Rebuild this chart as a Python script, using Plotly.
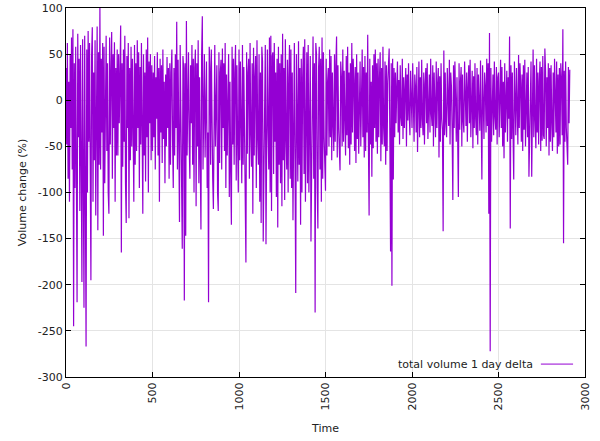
import plotly.graph_objects as go

# Volume change (%), one value every 4 days,
# grouped per 100-day block (block b starts at day 100*b)
day_step = 4
block_days = 100
volume_delta_blocks = [
    [35, -48, 62, -85, 20, -110, 50, -30, 68, -75, 77, -245, 40, -95, 58, -60, -219, 72, -40, 45, -120, 60, -70, -197, 66],
    [-50, -225, 70, -80, -267, 55, -100, 75, -45, 62, -90, -195, 48, 79, -110, 30, -65, 65, -125, 40, 80, -141, 52, -70, 100],
    [-75, 45, -35, 62, -147, 58, -90, 25, 70, -55, 40, -100, -123, 68, -48, 30, 74, -85, 50, -30, 63, -110, 35, -60, 55],
    [-60, 50, -25, 66, 81, -165, 40, -72, 55, -45, 70, -90, -133, 48, -30, 62, -128, 35, -65, 58, -50, 45, -80, -110, 60],
    [-70, 40, -55, 65, -30, 52, -95, 36, -48, 62, -20, -123, 50, -60, 30, -88, 55, -40, 68, -100, 42, -25, 50, -65, 38],
    [-55, 30, -40, 48, -75, 25, -20, 52, -60, 35, -110, 45, -35, 38, -68, 55, -42, 20, -90, 28, -50, 47, -30, 35, -85],
    [40, -70, 30, 55, -45, -95, 35, -60, 50, -30, 85, -75, 44, -40, -132, 60, -25, -80, -161, 48, 35, -217, 40, -147, 86],
    [-60, 30, 52, -45, -85, 38, -25, 60, -70, 45, -100, 35, 55, -115, 40, -50, 65, -90, 25, -65, -140, 48, 91, -75, 36],
    [50, -62, 30, 42, -95, -35, -219, 58, 35, -70, 55, -40, -85, -118, 45, 60, -50, 25, 38, -100, -120, 52, -68, 30, 44],
    [-75, 56, -30, 40, -55, 62, -95, 28, -60, 35, 50, -105, 20, -80, -135, 58, -48, 45, -70, 30, 60, -87, 38, -45, -100],
    [55, -65, 42, -25, -90, 60, -70, 36, -40, -108, -176, 52, -58, 30, 45, -85, 62, -35, -72, 40, -123, 57, -60, 25, 48],
    [-95, 65, -40, -70, 50, -110, 30, -133, 58, 42, -153, -60, 35, 60, -156, -85, 55, -30, -75, 68, -100, 70, -120, 48, 52],
    [-80, 62, -45, 30, -105, 45, -138, 58, -70, 40, -90, 50, -115, 72, -65, 35, -108, 66, -40, -75, 44, -100, 25, 60, -85],
    [55, -95, 30, -130, 48, 62, -75, -209, 50, -40, -88, 64, -70, 35, -135, 45, -100, 25, 58, -80, 66, -110, 40, 52, -90],
    [60, -100, 30, 48, -153, -45, 55, 69, -85, 40, -230, 62, 50, -95, -139, 35, 58, -75, 45, -110, 68, -85, 52, -40, -97],
    [-98, 45, -60, 20, 35, -50, 55, -40, 48, -65, 30, -25, -55, 50, -45, 38, 69, -62, 38, -30, -70, -76, 42, 25, -50],
    [55, -45, 32, -20, -60, 48, -38, 58, -52, 30, -70, 40, -48, 62, -35, 45, 22, -55, 36, -68, 50, -42, 30, -58, 40],
    [42, -50, 25, 55, -40, 36, -62, 48, -55, 30, -35, 71, -45, -125, 45, -48, 20, -83, 38, -52, 50, -30, 55, -45, 40],
    [-58, 45, -40, 25, 52, -66, 35, -48, 58, -30, -50, 42, -70, 38, -55, 20, 48, 56, -40, -164, 40, -201, 45, -86, 35],
    [-40, 30, -25, 15, 42, -35, 22, -48, 38, -18, -28, 45, -42, 25, -30, 12, 35, -50, 28, -22, 40, -15, -38, 32, -25],
    [-30, 40, -18, -45, 28, 15, -35, 36, -56, 22, 42, -40, 25, -30, 44, -20, -38, 30, -48, 18, 35, -25, 40, -42, 20],
    [28, -35, 45, -15, -28, 38, -50, 30, -22, -40, 42, -30, 18, 35, -62, 26, -45, 40, -20, -32, -142, 54, -38, 30, -25],
    [-40, 35, -18, -28, 44, -48, 30, 15, -35, -108, 38, -30, 42, -20, -45, 25, -38, -105, 40, -32, 20, 36, -50, 28, -22],
    [-35, 42, -18, -28, 30, -45, 15, 38, -25, 44, -40, 20, 32, -52, 26, -30, 40, -20, -38, 35, -48, 28, -15, -33, 43],
    [-30, -86, 38, -20, -42, 30, 15, -35, 45, -28, 40, -123, 73, -272, 35, -45, 22, 28, -38, 42, -18, -32, 36, -48, 25],
    [30, -40, 18, 44, -30, 36, -50, 20, -63, 40, -35, 15, 32, -45, 25, -20, 69, -139, 38, -42, 30, -36, -86, 42, -25],
    [-38, 35, -20, -48, 49, -30, 40, 18, -45, 28, -55, 38, -32, 44, -50, 22, 30, -40, 36, -83, -46, 25, 42, -83, 20],
    [55, -40, 38, -22, -52, 45, -35, 30, -48, 20, 42, -55, 36, -44, 48, -38, -42, 56, 32, -50, 25, -30, 40, -60, 35],
    [-45, 38, -25, -55, 30, -40, 45, -20, -35, 42, -58, 28, -50, 35, -48, 40, 22, -38, 77, -155, 32, -45, 42, -30, -52],
    [-70, 36, -25, 33],
]

time_days = [b * block_days + j * day_step
             for b, block in enumerate(volume_delta_blocks) for j in range(len(block))]
volume_delta = [v for block in volume_delta_blocks for v in block]

x_ticks = [0, 500, 1000, 1500, 2000, 2500, 3000]
y_ticks = [-300, -250, -200, -150, -100, -50, 0, 50, 100]

series_name = "total volume 1 day delta"
line_color = "#9400D3"
text_color = "#222222"
font_family = "DejaVu Sans"

fig = go.Figure()
fig.add_trace(go.Scatter(
    x=time_days, y=volume_delta, mode="lines",
    line=dict(color=line_color, width=1.2),
    name=series_name, showlegend=False,
))

axis_common = dict(
    showline=True, linecolor="#000000", linewidth=1, mirror="ticks",
    ticks="inside", ticklen=5, tickcolor="#000000", tickwidth=1,
    showgrid=True, gridcolor="#e4e4e4", gridwidth=1, zeroline=False,
    tickfont=dict(family=font_family, size=11, color=text_color),
)

fig.update_xaxes(
    range=[0, 3000], tickvals=x_ticks, ticktext=[str(v) for v in x_ticks],
    tickangle=-90,
    title=dict(text="Time", font=dict(family=font_family, size=11, color=text_color), standoff=14),
    **axis_common,
)
fig.update_yaxes(
    range=[-300, 100], tickvals=y_ticks, ticktext=[str(v) for v in y_ticks],
    title=dict(text="Volume change (%)", font=dict(family=font_family, size=11, color=text_color), standoff=8),
    **axis_common,
)

# gnuplot-style key: text first, line sample after it
key_y = 0.035
fig.add_annotation(
    xref="paper", yref="paper", x=0.904, y=key_y, xanchor="right", yanchor="middle",
    text=series_name, showarrow=False,
    font=dict(family=font_family, size=11, color=text_color),
)
fig.add_shape(
    type="line", xref="paper", yref="paper", x0=0.915, x1=0.977, y0=key_y, y1=key_y,
    line=dict(color=line_color, width=1),
)

fig.update_layout(
    width=600, height=441,
    margin=dict(l=66, r=15, t=8, b=64, autoexpand=False),
    plot_bgcolor="#ffffff", paper_bgcolor="#ffffff",
    font=dict(family=font_family, size=11, color=text_color),
)

fig.write_html("out.html")
